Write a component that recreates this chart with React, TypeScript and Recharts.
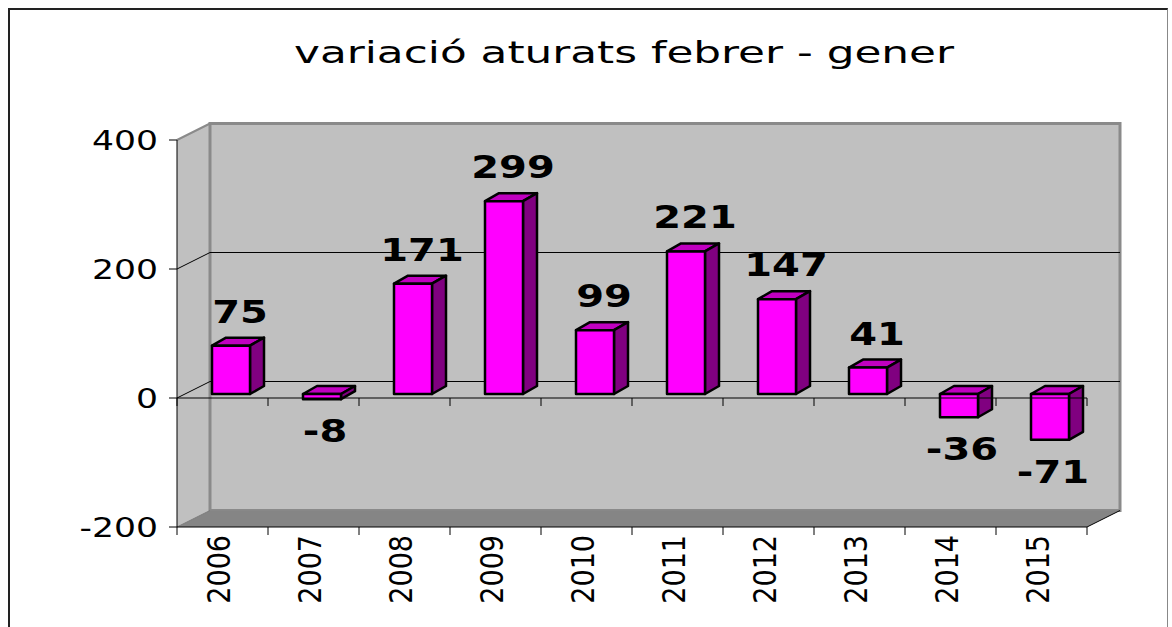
import React from 'react';
import { BarChart, Bar, XAxis, YAxis, ReferenceArea, ReferenceLine, LabelList } from 'recharts';

const TITLE = 'variació aturats febrer - gener';
const YEARS = ['2006', '2007', '2008', '2009', '2010', '2011', '2012', '2013', '2014', '2015'];
const VALUES = [75, -8, 171, 299, 99, 221, 147, 41, -36, -71];
const Y_TICKS = [-200, 0, 200, 400];
const Y_DOMAIN: [number, number] = [-200, 400];

const data = YEARS.map((year, i) => ({ year, value: VALUES[i] }));

const FONT = '"DejaVu Sans", Verdana, sans-serif';
const DX = 33;
const DY = 16.5;
const BAR_DX = 8;
const BAR_DY = 4;
const BD_X = 14;
const BD_Y = 8;

const Walls = (p: any) => {
  const { x, y, width, height } = p;
  const r = x + width;
  const b = y + height;
  return (
    <g>
      <polygon points={`${x},${y} ${x + DX},${y - DY} ${x + DX},${b - DY} ${x},${b}`} fill="#c0c0c0" />
      <rect x={x + DX} y={y - DY} width={width} height={height} fill="#c0c0c0" stroke="#8a8a8a" strokeWidth={3} />
      <polygon points={`${x},${b} ${x + DX},${b - DY} ${r + DX},${b - DY} ${r},${b}`} fill="#858585" />
      <line x1={x} y1={y} x2={x + DX} y2={y - DY} stroke="#8a8a8a" strokeWidth={2} />
      <line x1={x} y1={b} x2={x + DX} y2={b - DY} stroke="#7a7a7a" strokeWidth={1} />
    </g>
  );
};

const BackGrid = (p: any) => {
  const { x1, y1, x2 } = p;
  return (
    <g>
      <line x1={x1} y1={y1} x2={x1 + DX} y2={y1 - DY} stroke="#000" strokeWidth={1} />
      <line x1={x1 + DX} y1={y1 - DY} x2={x2 + DX} y2={y1 - DY} stroke="#000" strokeWidth={1} />
    </g>
  );
};

const makeFrontAxis = (withCorner: boolean) => (p: any) => {
  const { x1, y1, x2 } = p;
  const n = YEARS.length;
  const step = (x2 - x1) / n;
  const ticks = [];
  for (let k = 0; k <= n; k++) {
    const tx = x1 + k * step;
    ticks.push(<line key={k} x1={tx} y1={y1} x2={tx} y2={y1 + 8} stroke="#000" strokeWidth={1} />);
  }
  return (
    <g>
      <line x1={x1} y1={y1} x2={x2} y2={y1} stroke="#000" strokeWidth={1} />
      {ticks}
      {withCorner && <line x1={x2} y1={y1} x2={x2 + DX} y2={y1 - DY} stroke="#000" strokeWidth={1} />}
    </g>
  );
};

const Bar3D = (p: any) => {
  const { x, y, width, height } = p;
  const top = Math.min(y, y + height);
  const h = Math.abs(height);
  const fx = x + BAR_DX;
  const fy = top - BAR_DY;
  const w = width;
  return (
    <g stroke="#000" strokeWidth={2.5} strokeLinejoin="round">
      <polygon
        points={`${fx},${fy} ${fx + BD_X},${fy - BD_Y} ${fx + w + BD_X},${fy - BD_Y} ${fx + w},${fy}`}
        fill="#c000c0"
      />
      <polygon
        points={`${fx + w},${fy} ${fx + w + BD_X},${fy - BD_Y} ${fx + w + BD_X},${fy + h - BD_Y} ${fx + w},${fy + h}`}
        fill="#800080"
      />
      <rect x={fx} y={fy} width={w} height={h} fill="#ff00ff" />
    </g>
  );
};

const BarLabel = (p: any) => {
  const vb = p.viewBox && p.viewBox.width !== undefined ? p.viewBox : p;
  const { x, y, width, height } = vb;
  const value = Number(p.value);
  const top = Math.min(y, y + height);
  const h = Math.abs(height);
  const fx = x + BAR_DX;
  const fy = top - BAR_DY;
  let cx: number;
  let by: number;
  if (value >= 0) {
    cx = fx + width / 2 + 9;
    by = fy - 23;
  } else {
    cx = fx + width / 2 + 3;
    by = fy + h + 43;
  }
  return (
    <text
      transform={`translate(${cx},${by}) scale(1.25,1)`}
      textAnchor="middle"
      fontFamily={FONT}
      fontWeight="bold"
      fontSize={32}
      fill="#000"
    >
      {String(p.value)}
    </text>
  );
};

const YTick = (p: any) => {
  const { x, y, payload } = p;
  return (
    <text
      transform={`translate(${x - 9},${y + 10}) scale(1.28,1)`}
      textAnchor="end"
      fontFamily={FONT}
      fontSize={27}
      fill="#000"
    >
      {String(payload.value)}
    </text>
  );
};

const XTick = (p: any) => {
  const { x, y, payload } = p;
  return (
    <text
      transform={`translate(${x + 7},${y}) rotate(-90) scale(1,1.18)`}
      textAnchor="end"
      fontFamily={FONT}
      fontSize={27}
      fill="#000"
    >
      {String(payload.value)}
    </text>
  );
};

export default function App() {
  return (
    <div style={{ position: 'relative', width: 1172, height: 627, overflow: 'hidden' }}>
      <style>{'html,body{margin:0;padding:0;overflow:hidden;background:#fff}'}</style>
      <div
        style={{
          position: 'absolute',
          left: 8,
          top: 8,
          width: 1160,
          height: 700,
          borderLeft: '2px solid #222',
          borderTop: '2px solid #222',
          borderRight: '1px solid #888',
          boxSizing: 'border-box',
        }}
      />
      <svg style={{ position: 'absolute', left: 0, top: 0 }} width={1172} height={100}>
        <text
          x={624}
          y={63}
          textAnchor="middle"
          fontFamily={FONT}
          fontSize={31}
          textLength={660}
          lengthAdjust="spacingAndGlyphs"
          fill="#000"
        >
          {TITLE}
        </text>
      </svg>
      <div style={{ position: 'absolute', left: 0, top: 0 }}>
        <BarChart
          width={1172}
          height={627}
          data={data}
          margin={{ top: 140, right: 85, left: 97, bottom: 40 }}
          barSize={38}
        >
          <ReferenceArea y1={-200} y2={400} shape={Walls} ifOverflow="visible" zIndex={1} />
          <ReferenceLine y={200} shape={BackGrid} ifOverflow="visible" zIndex={2} />
          <ReferenceLine y={0} shape={BackGrid} ifOverflow="visible" zIndex={2} />
          <XAxis
            dataKey="year"
            axisLine={false}
            tickLine={false}
            tickSize={6}
            tickMargin={2}
            interval={0}
            height={60}
            tick={<XTick />}
          />
          <YAxis
            domain={Y_DOMAIN}
            ticks={Y_TICKS}
            interval={0}
            width={80}
            axisLine={{ stroke: '#000', strokeWidth: 1 }}
            tickLine={{ stroke: '#000', strokeWidth: 1 }}
            tickSize={8}
            tickMargin={2}
            tick={<YTick />}
          />
          <Bar dataKey="value" shape={Bar3D} isAnimationActive={false}>
            <LabelList dataKey="value" content={BarLabel} />
          </Bar>
          <ReferenceLine y={0} shape={makeFrontAxis(false)} ifOverflow="visible" zIndex={700} />
          <ReferenceLine y={-200} shape={makeFrontAxis(true)} ifOverflow="visible" zIndex={700} />
        </BarChart>
      </div>
    </div>
  );
}
